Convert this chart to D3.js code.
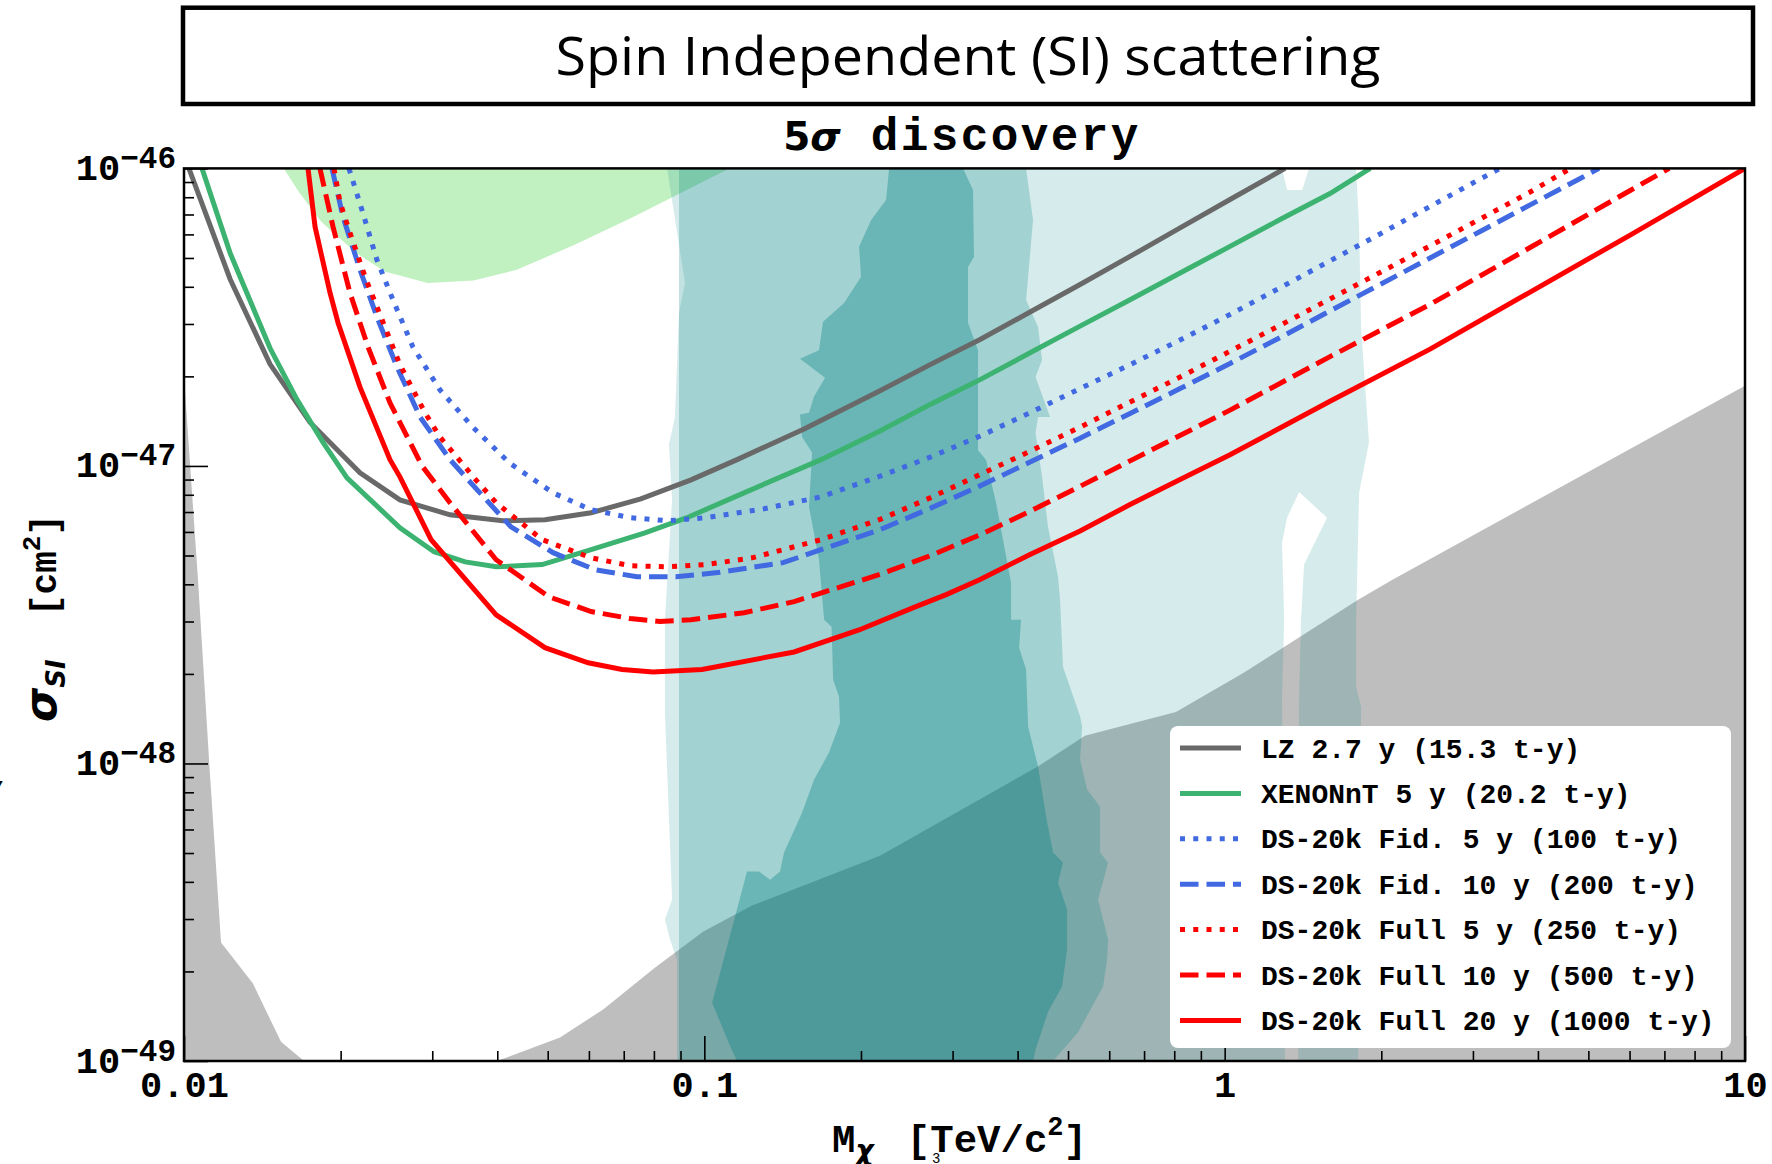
<!DOCTYPE html>
<html lang="en">
<head>
<meta charset="UTF-8"/>
<title>SI scattering - 5 sigma discovery</title>
<script src="https://d3js.org/d3.v7.min.js"></script>
<style>
  body { margin: 0; background: #fff; }
</style>
</head>
<body>
<svg id="chart" width="1772" height="1164"></svg>
<script>
// ---- data: mass [TeV], cross-section [cm^2] ----
const lzCurve = [[0.01022,1.0e-46],[0.01226,4.25e-47],[0.01463,2.20e-47],[0.01747,1.40e-47],[0.02179,9.48e-48],[0.0260,7.69e-48],[0.03245,6.85e-48],[0.0410,6.54e-48],[0.0494,6.59e-48],[0.0606,6.96e-48],[0.0755,7.75e-48],[0.0943,8.98e-48],[0.1156,1.05e-47],[0.1555,1.33e-47],[0.2176,1.79e-47],[0.2716,2.19e-47],[0.3388,2.66e-47],[0.4227,3.29e-47],[0.5274,4.07e-47],[0.658,5.06e-47],[0.821,6.31e-47],[1.024,7.86e-47],[1.306,1.0e-46]];
const xenonCurve = [[0.01083,1.0e-46],[0.01226,5.20e-47],[0.01463,2.49e-47],[0.01649,1.67e-47],[0.01850,1.20e-47],[0.02057,9.12e-48],[0.0260,6.20e-48],[0.03024,5.15e-48],[0.0347,4.76e-48],[0.0398,4.58e-48],[0.0488,4.66e-48],[0.0606,5.23e-48],[0.0769,5.96e-48],[0.0926,6.70e-48],[0.1192,8.12e-48],[0.1676,1.05e-47],[0.2176,1.31e-47],[0.2716,1.61e-47],[0.3388,1.95e-47],[0.4227,2.40e-47],[0.5274,2.95e-47],[0.658,3.62e-47],[0.821,4.45e-47],[1.024,5.47e-47],[1.278,6.73e-47],[1.594,8.23e-47],[1.904,1.0e-46]];
const fid5Curve = [[0.02075,1.0e-46],[0.02198,7.25e-47],[0.02349,4.92e-47],[0.02522,3.61e-47],[0.02754,2.51e-47],[0.03105,1.80e-47],[0.0359,1.35e-47],[0.04232,1.02e-47],[0.0512,8.12e-48],[0.0606,7.12e-48],[0.0720,6.70e-48],[0.0852,6.54e-48],[0.1008,6.70e-48],[0.1302,7.18e-48],[0.1676,7.87e-48],[0.2176,9.24e-48],[0.2716,1.07e-47],[0.3388,1.26e-47],[0.4227,1.51e-47],[0.5274,1.82e-47],[0.658,2.19e-47],[0.821,2.65e-47],[1.024,3.23e-47],[1.278,3.97e-47],[1.594,4.89e-47],[1.989,6.02e-47],[2.482,7.45e-47],[3.097,9.21e-47],[3.383,1.0e-46]];
const fid10Curve = [[0.01925,1.0e-46],[0.02021,6.87e-47],[0.02179,4.56e-47],[0.02360,3.10e-47],[0.02567,2.15e-47],[0.02842,1.46e-47],[0.03245,1.05e-47],[0.0366,8.31e-48],[0.0425,6.24e-48],[0.0512,5.11e-48],[0.0617,4.48e-48],[0.0742,4.24e-48],[0.0882,4.24e-48],[0.1062,4.38e-48],[0.1417,4.73e-48],[0.1676,5.23e-48],[0.2176,6.11e-48],[0.2716,7.20e-48],[0.3388,8.57e-48],[0.4227,1.03e-47],[0.5274,1.24e-47],[0.658,1.50e-47],[0.821,1.82e-47],[1.024,2.21e-47],[1.278,2.70e-47],[1.594,3.32e-47],[1.989,4.07e-47],[2.482,5.00e-47],[3.097,6.14e-47],[3.864,7.54e-47],[4.822,9.25e-47],[5.24,1.0e-46]];
const full5Curve = [[0.01942,1.0e-46],[0.01994,7.71e-47],[0.02066,6.36e-47],[0.02228,4.32e-47],[0.0239,3.17e-47],[0.0260,2.19e-47],[0.02905,1.51e-47],[0.03105,1.25e-47],[0.03347,1.07e-47],[0.0361,9.12e-48],[0.0398,7.52e-48],[0.0488,5.65e-48],[0.0606,4.91e-48],[0.0720,4.62e-48],[0.0852,4.58e-48],[0.1008,4.66e-48],[0.1235,4.91e-48],[0.1676,5.65e-48],[0.2176,6.61e-48],[0.2716,7.81e-48],[0.3388,9.36e-48],[0.4227,1.12e-47],[0.5274,1.35e-47],[0.658,1.64e-47],[0.821,1.99e-47],[1.024,2.43e-47],[1.278,2.97e-47],[1.594,3.64e-47],[1.989,4.47e-47],[2.482,5.49e-47],[3.097,6.76e-47],[3.864,8.33e-47],[4.62,1.0e-46]];
const full10Curve = [[0.01825,1.0e-46],[0.01934,6.36e-47],[0.02084,3.82e-47],[0.02258,2.51e-47],[0.02488,1.63e-47],[0.02867,1.00e-47],[0.03245,7.52e-48],[0.0398,4.84e-48],[0.0503,3.63e-48],[0.0606,3.24e-48],[0.0720,3.07e-48],[0.0822,3.00e-48],[0.0943,3.04e-48],[0.1192,3.21e-48],[0.1488,3.50e-48],[0.2176,4.32e-48],[0.2716,4.99e-48],[0.3388,5.87e-48],[0.4227,7.04e-48],[0.5274,8.54e-48],[0.658,1.04e-47],[1.024,1.54e-47],[1.594,2.33e-47],[2.482,3.49e-47],[3.864,5.42e-47],[6.016,8.43e-47],[7.15,1.0e-46]];
const full20Curve = [[0.01731,1.0e-46],[0.01786,6.36e-47],[0.01908,3.82e-47],[0.01977,3.03e-47],[0.02179,1.84e-47],[0.02488,1.05e-47],[0.0260,9.19e-48],[0.02984,5.65e-48],[0.0398,3.16e-48],[0.0494,2.45e-48],[0.0598,2.18e-48],[0.0695,2.07e-48],[0.0797,2.03e-48],[0.0990,2.07e-48],[0.1488,2.37e-48],[0.1983,2.81e-48],[0.2522,3.34e-48],[0.2924,3.70e-48],[0.3388,4.15e-48],[0.4227,5.04e-48],[0.5274,6.04e-48],[0.658,7.42e-48],[0.821,9.00e-48],[1.024,1.09e-47],[1.594,1.65e-47],[2.482,2.47e-47],[3.864,3.84e-47],[6.016,5.97e-47],[10.0,1.0e-46]];

const legendLabels = ['LZ 2.7 y (15.3 t-y)', 'XENONnT 5 y (20.2 t-y)', 'DS-20k Fid. 5 y (100 t-y)',
  'DS-20k Fid. 10 y (200 t-y)', 'DS-20k Full 5 y (250 t-y)', 'DS-20k Full 10 y (500 t-y)', 'DS-20k Full 20 y (1000 t-y)'];

// shaded regions
const leftExcl = [[0.01,2.0e-47],[0.01064,4.14e-48],[0.01119,9.83e-49],[0.01178,2.50e-49],[0.01357,1.82e-49],[0.01536,1.16e-49],[0.01701,1e-49],[0.01,1e-49]];
const rightExcl = [[0.0400,1e-49],[0.0528,1.20e-49],[0.0639,1.49e-49],[0.0801,2.05e-49],[0.0994,2.72e-49],[0.1235,3.33e-49],[0.2176,4.90e-49],[0.440,9.83e-49],[0.539,1.24e-48],[0.806,1.49e-48],[1.090,2.02e-48],[1.805,3.55e-48],[2.097,4.14e-48],[10,1.86e-47],[10,1e-49]];
const greenRegion = [[0.01556,1e-46],[0.0166,8.37e-47],[0.01838,6.61e-47],[0.0214,5.21e-47],[0.0243,4.50e-47],[0.0294,4.12e-47],[0.0360,4.20e-47],[0.0436,4.56e-47],[0.0562,5.53e-47],[0.0725,6.82e-47],[0.1116,1e-46]];
const bandOuter = [[0.0886,1e-49],[0.0886,2.19e-49],[0.0859,2.56e-49],[0.0840,2.99e-49],[0.0867,3.49e-49],[0.0840,1.48e-48],[0.0840,3.04e-48],[0.0867,7.69e-48],[0.0855,1.18e-47],[0.0878,1.46e-47],[0.0894,3.27e-47],[0.0918,4.12e-47],[0.0848,1e-46],
  [1.289,1e-46],[1.318,8.46e-47],[1.409,8.46e-47],[1.453,1e-46],[1.789,1e-46],[1.813,6.36e-47],[1.829,2.93e-47],[1.894,1.20e-47],[1.813,8.12e-48],[1.789,3.04e-48],[1.789,1.81e-48],[1.829,1.55e-48],[1.805,1e-49],
  [1.384,1e-49],[1.390,1.64e-48],[1.402,3.04e-48],[1.421,4.66e-48],[1.573,6.70e-48],[1.390,8.18e-48],[1.318,6.70e-48],[1.289,5.52e-48],[1.301,3.04e-48],[1.289,1.64e-48],[1.306,1e-49]];
const bandMid = [[0.0894,1e-49],[0.0894,1e-46],[0.4153,1e-46],[0.4283,6.71e-47],[0.4153,3.61e-47],[0.4379,2.93e-47],[0.4457,2.27e-47],[0.4330,1.99e-47],[0.4617,1.46e-47],[0.4379,1.46e-47],[0.4330,1.29e-47],[0.4457,9.19e-48],[0.4576,6.24e-48],[0.4784,4.24e-48],[0.4826,3.55e-48],[0.4891,2.11e-48],[0.5274,1.44e-48],[0.5321,1.33e-48],[0.5274,1.03e-48],[0.5440,8.17e-49],[0.5761,7.16e-49],[0.5761,5.02e-49],[0.5970,4.64e-49],[0.5711,3.49e-49],[0.5970,2.56e-49],[0.5943,2.19e-49],[0.5839,1.78e-49],[0.5227,1.25e-49],[0.4680,1e-49]];
const bandDark = [[0.1156,1e-49],[0.1121,1.12e-49],[0.1035,1.57e-49],[0.1208,4.33e-49],[0.1274,4.33e-49],[0.1338,4.07e-49],[0.1398,4.33e-49],[0.1423,5.02e-49],[0.1541,6.83e-49],[0.1625,8.82e-49],[0.1737,1.09e-48],[0.1823,1.37e-48],[0.1815,1.68e-48],[0.1768,1.91e-48],[0.1756,2.88e-48],[0.1699,3.04e-48],[0.1661,4.84e-48],[0.1589,7.29e-48],[0.1611,1.11e-47],[0.1541,1.25e-47],[0.1527,1.49e-47],[0.1589,1.51e-47],[0.1625,1.71e-47],[0.1706,1.98e-47],[0.1527,2.29e-47],[0.1661,2.45e-47],[0.1691,3.05e-47],[0.1856,3.53e-47],[0.2001,4.32e-47],[0.1983,5.45e-47],[0.2092,6.71e-47],[0.2235,7.83e-47],[0.2265,1e-46],
  [0.3142,1e-46],[0.3284,8.46e-47],[0.3298,5.04e-47],[0.3212,4.67e-47],[0.3212,3.03e-47],[0.3357,2.45e-47],[0.3357,1.13e-47],[0.3478,1.05e-47],[0.3636,7.52e-48],[0.3886,4.05e-48],[0.3886,3.04e-48],[0.4061,3.04e-48],[0.4026,2.45e-48],[0.4153,2.07e-48],[0.4190,1.33e-48],[0.4379,9.76e-49],[0.4526,6.83e-49],[0.4576,6.13e-49],[0.4680,5.02e-49],[0.4891,4.64e-49],[0.4784,3.98e-49],[0.4979,3.23e-49],[0.4979,2.37e-49],[0.4870,1.78e-49],[0.4576,1.46e-49],[0.4330,1.09e-49],[0.4283,1e-49]];

// axis ticks
const xMajor = [0.01, 0.1, 1, 10];
const xTickLabels = ['0.01', '0.1', '1', '10'];
const yMajor = [1e-49, 1e-48, 1e-47, 1e-46];
const yTickExps = ['\u221249', '\u221248', '\u221247', '\u221246'];

const MONO = "'Liberation Mono', 'DejaVu Sans Mono', monospace";
const SANS = "'DejaVu Sans', sans-serif";

const svg = d3.select('#chart');
svg.append('rect').attr('width', 1772).attr('height', 1164).attr('fill', '#fff');

const x = d3.scaleLog().domain([0.01, 10]).range([184, 1745]);
const y = d3.scaleLog().domain([1e-49, 1e-46]).range([1061, 168.4]);

// title box
svg.append('rect')
  .attr('x', 183).attr('y', 7.7).attr('width', 1570).attr('height', 96.3)
  .attr('fill', 'none').attr('stroke', '#000').attr('stroke-width', 4.5);
svg.append('text')
  .attr('x', 968).attr('y', 75)
  .attr('text-anchor', 'middle')
  .attr('textLength', 825).attr('lengthAdjust', 'spacingAndGlyphs')
  .style('font-family', "'Open Sans', sans-serif").style('font-size', '53px')
  .text('Spin Independent (SI) scattering');

// subtitle
const sub = svg.append('text').attr('x', 962).attr('y', 150).attr('text-anchor', 'middle')
  .style('font-weight', 'bold').style('white-space', 'pre');
sub.append('tspan').style('font-family', SANS).style('font-size', '39px').text('5');
sub.append('tspan').style('font-family', SANS).style('font-size', '39px').style('font-style', 'italic').text('\u03c3');
sub.append('tspan').style('font-family', MONO).style('font-size', '46px').style('letter-spacing', '2.4px').text(' discovery');

// plot content
svg.append('defs').append('clipPath').attr('id', 'plotclip')
  .append('rect').attr('x', 184).attr('y', 168.4).attr('width', 1561).attr('height', 892.6);
const plot = svg.append('g').attr('clip-path', 'url(#plotclip)');

const line = d3.line().x(d => x(d[0])).y(d => y(d[1]));
const poly = d => line(d) + 'Z';

plot.append('path').attr('d', poly(leftExcl)).attr('fill', '#bebebe');
plot.append('path').attr('d', poly(rightExcl)).attr('fill', '#bebebe');
plot.append('path').attr('d', poly(greenRegion)).attr('fill', '#c1f0c1');
plot.append('path').attr('d', poly(bandOuter)).attr('fill', 'rgb(0,128,128)').attr('fill-opacity', 0.16);
plot.append('path').attr('d', poly(bandMid)).attr('fill', 'rgb(0,128,128)').attr('fill-opacity', 0.24);
plot.append('path').attr('d', poly(bandDark)).attr('fill', 'rgb(0,128,128)').attr('fill-opacity', 0.35);

const curves = [lzCurve, xenonCurve, fid5Curve, fid10Curve, full5Curve, full10Curve, full20Curve];
const colors = ['#696969', '#3cb371', '#4169e1', '#4169e1', '#ff0000', '#ff0000', '#ff0000'];
const dashes = [null, null, '5 8.25', '18.5 8', '5 8.25', '18.5 8', null];

curves.forEach((c, i) => {
  plot.append('path')
    .attr('d', line(c))
    .attr('fill', 'none')
    .attr('stroke', colors[i])
    .attr('stroke-width', 5)
    .attr('stroke-dasharray', dashes[i]);
});

// ticks
const xMinor = [], yMinor = [];
for (let e = -2; e < 1; e++) for (let k = 2; k < 10; k++) xMinor.push(k * Math.pow(10, e));
for (let e = -49; e < -46; e++) for (let k = 2; k < 10; k++) yMinor.push(k * Math.pow(10, e));

function styleTicks(g) {
  g.select('.domain').remove();
  g.selectAll('.tick line').attr('stroke', '#000').attr('stroke-width', 1.6);
}

svg.append('g').attr('transform', 'translate(0,1061)')
  .call(d3.axisBottom(x).tickValues(xMinor).tickSize(-10).tickFormat(''))
  .call(styleTicks);
const gx = svg.append('g').attr('transform', 'translate(0,1061)')
  .call(d3.axisBottom(x).tickValues(xMajor).tickSize(-25).tickPadding(10).tickFormat((d, i) => xTickLabels[i]))
  .call(styleTicks);
gx.selectAll('.tick text')
  .style('font-family', MONO).style('font-weight', 'bold').style('font-size', '37px').attr('fill', '#000');

svg.append('g').attr('transform', 'translate(184,0)')
  .call(d3.axisLeft(y).tickValues(yMinor).tickSize(-10).tickFormat(''))
  .call(styleTicks);
const gy = svg.append('g').attr('transform', 'translate(184,0)')
  .call(d3.axisLeft(y).tickValues(yMajor).tickSize(-24).tickPadding(8).tickFormat(''))
  .call(styleTicks);
gy.selectAll('.tick text').each(function(d, i) {
  const t = d3.select(this).attr('dy', null).attr('y', 11)
    .style('font-family', MONO).style('font-weight', 'bold').attr('fill', '#000');
  t.append('tspan').style('font-size', '37px').text('10');
  t.append('tspan').style('font-size', '31px').attr('dy', -12).text(yTickExps[i]);
});

// spines
svg.append('rect')
  .attr('x', 184).attr('y', 168.4).attr('width', 1561).attr('height', 892.6)
  .attr('fill', 'none').attr('stroke', '#000').attr('stroke-width', 2.5);

// legend
const lg = svg.append('g');
lg.append('rect').attr('x', 1170).attr('y', 726).attr('width', 561).attr('height', 322)
  .attr('rx', 8).attr('fill', '#fff');
legendLabels.forEach((lab, i) => {
  const cy = 748 + i * 45.4;
  lg.append('line')
    .attr('x1', 1180).attr('x2', 1241).attr('y1', cy).attr('y2', cy)
    .attr('stroke', colors[i]).attr('stroke-width', 5)
    .attr('stroke-dasharray', dashes[i]);
  lg.append('text')
    .attr('x', 1261).attr('y', cy + 9.5)
    .style('font-family', MONO).style('font-weight', 'bold').style('font-size', '28px')
    .text(lab);
});

// axis titles
const xl = svg.append('text').attr('x', 832).attr('y', 1152)
  .style('font-weight', 'bold').style('white-space', 'pre');
xl.append('tspan').style('font-family', MONO).style('font-size', '39px').text('M');
xl.append('tspan').style('font-family', SANS).style('font-style', 'italic').style('font-size', '28px').attr('dy', 8).text('\u03c7');
xl.append('tspan').style('font-family', MONO).style('font-size', '39px').attr('dy', -8).attr('dx', 10).text(' [TeV/c');
xl.append('tspan').style('font-family', MONO).style('font-size', '27px').attr('dy', -17).text('2');
xl.append('tspan').style('font-family', MONO).style('font-size', '39px').attr('dy', 17).text(']');
svg.append('text').attr('x', 932).attr('y', 1163)
  .style('font-family', MONO).style('font-size', '14px').text('3');

const yl = svg.append('text')
  .attr('transform', 'translate(56,618) rotate(-90)')
  .attr('text-anchor', 'middle')
  .style('font-weight', 'bold').style('white-space', 'pre');
yl.append('tspan').style('font-family', SANS).style('font-style', 'italic').style('font-size', '44px').text('\u03c3');
yl.append('tspan').style('font-family', SANS).style('font-style', 'italic').style('font-size', '26px').attr('dy', 9).text('SI');
yl.append('tspan').style('font-family', MONO).style('font-size', '36px').attr('dy', -9).text('  [cm');
yl.append('tspan').style('font-family', MONO).style('font-size', '26px').attr('dy', -16).text('2');
yl.append('tspan').style('font-family', MONO).style('font-size', '36px').attr('dy', 16).text(']');

// clipped glyph at the left edge
svg.append('text').attr('x', -14).attr('y', 803)
  .style('font-family', MONO).style('font-weight', 'bold').style('font-size', '30px').text('/');
</script>
</body>
</html>
